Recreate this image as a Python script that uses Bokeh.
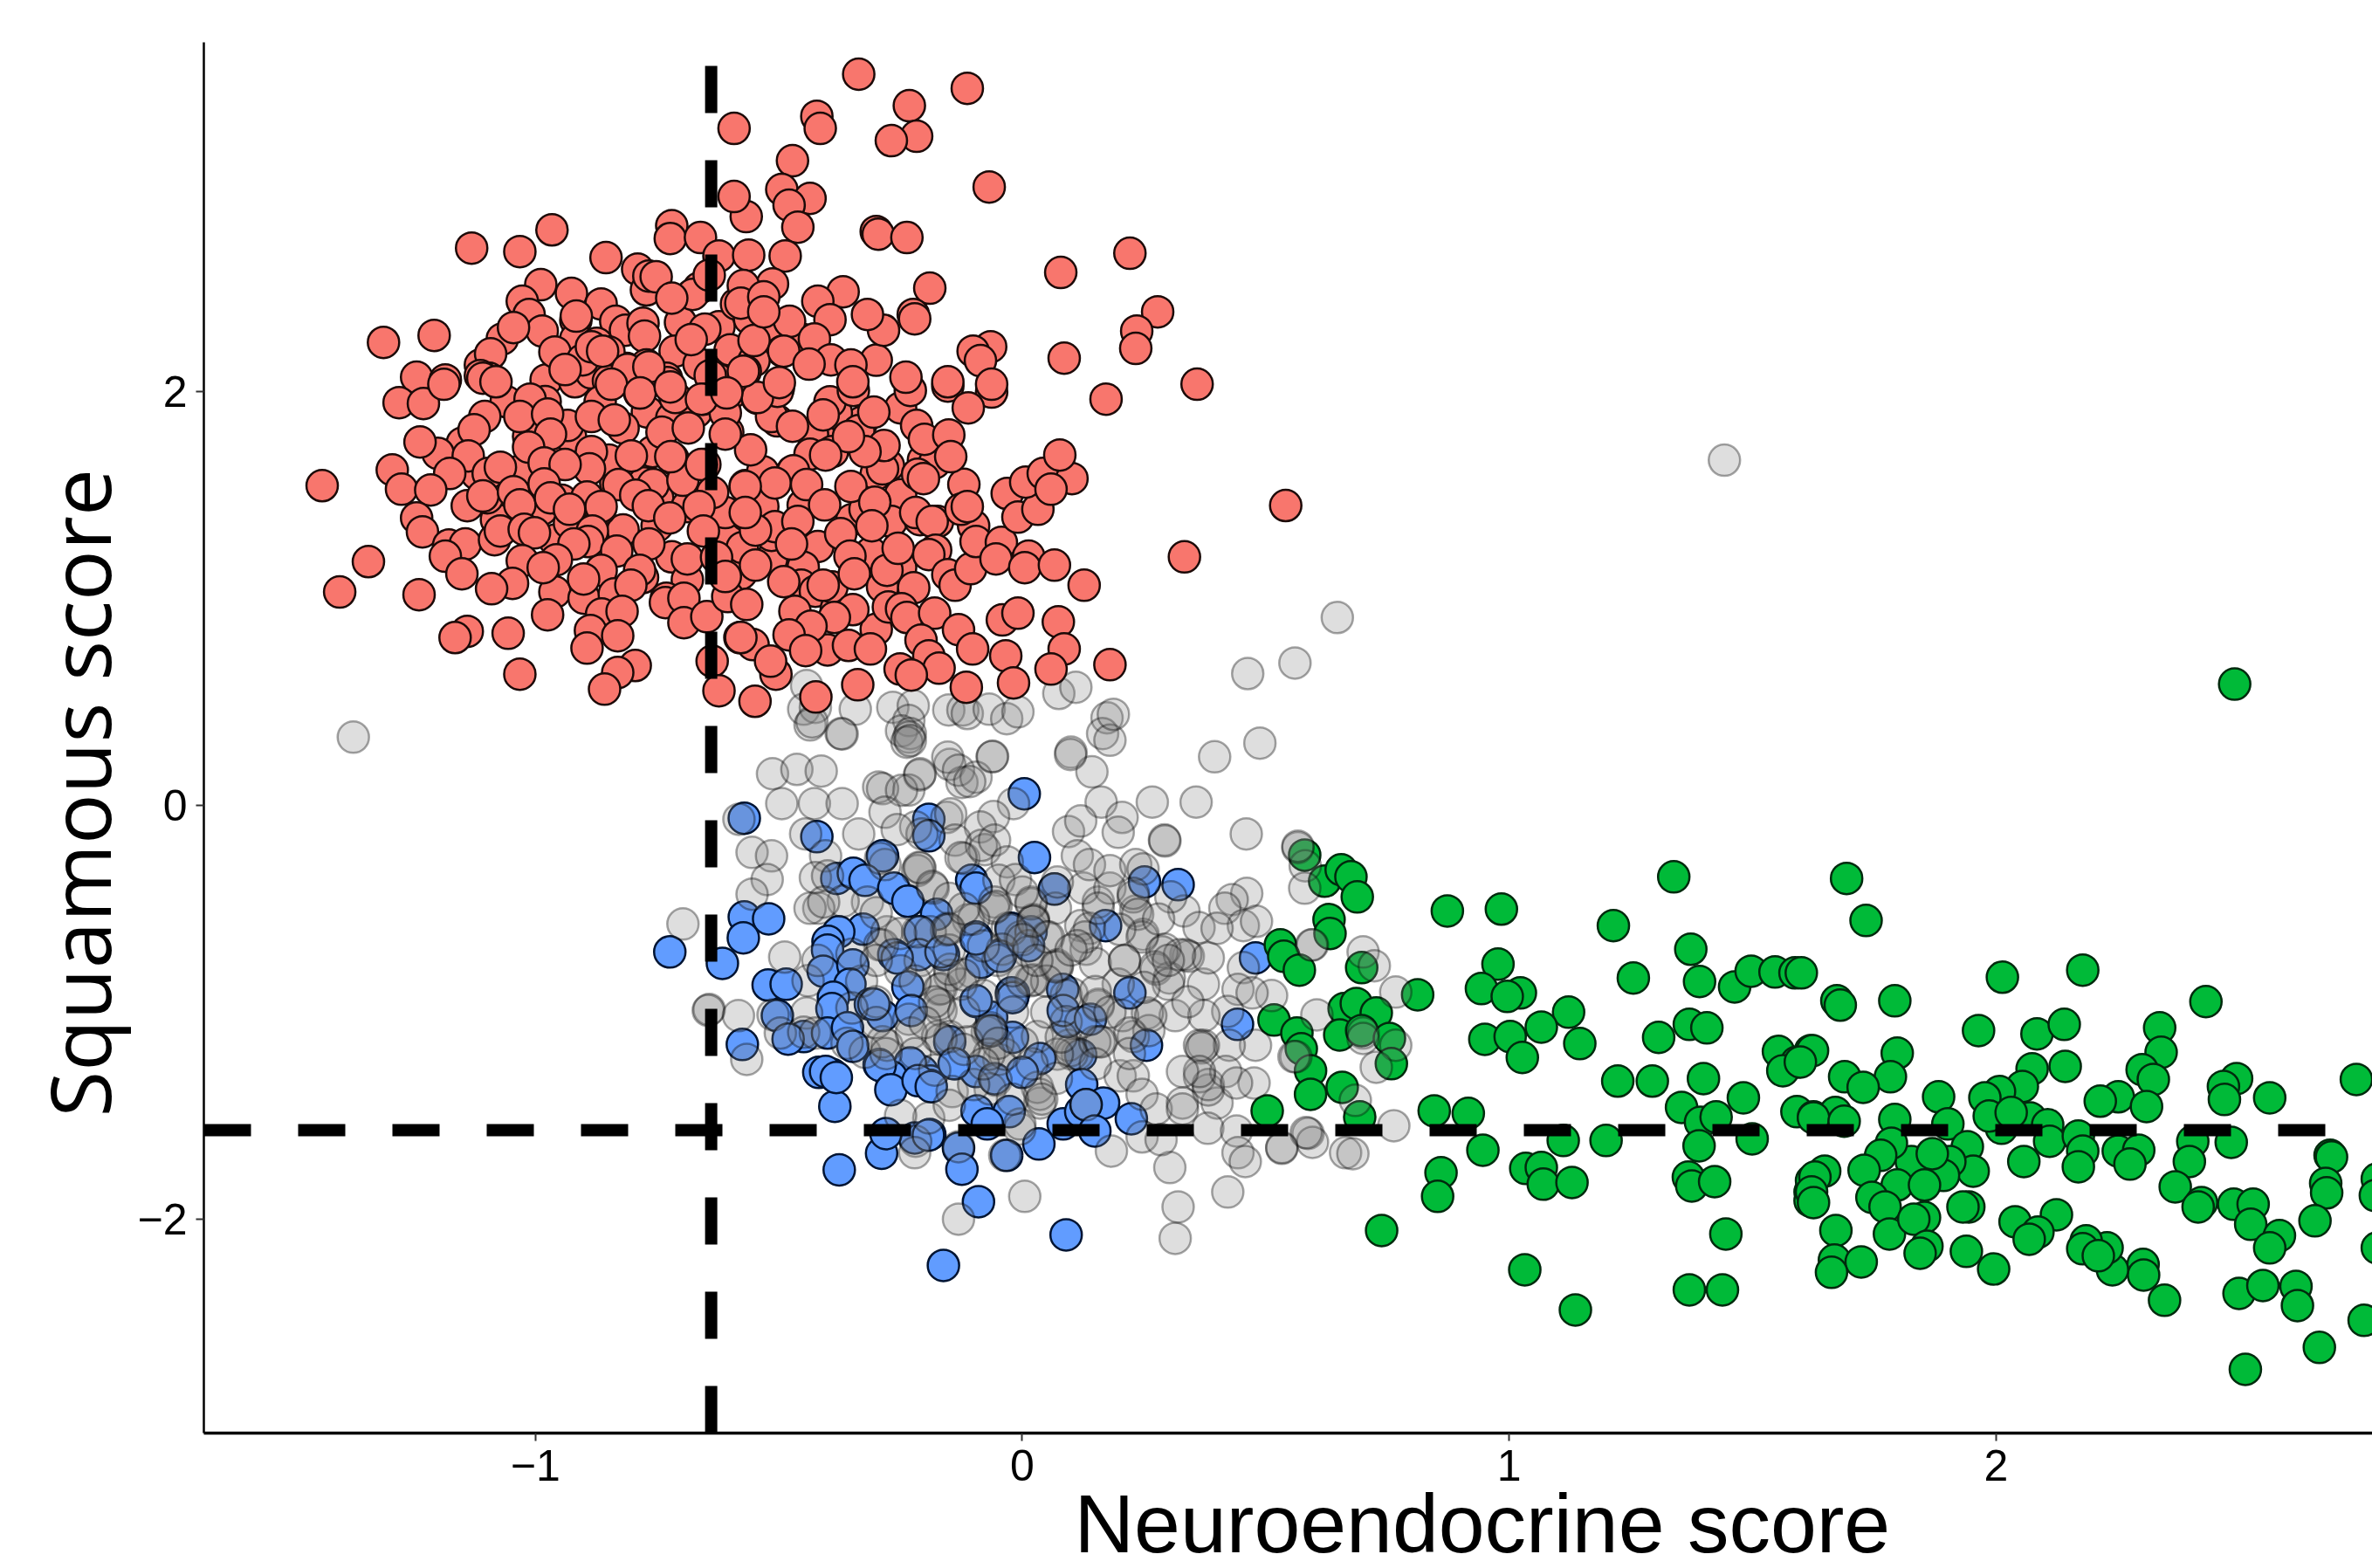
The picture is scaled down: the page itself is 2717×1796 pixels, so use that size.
from bokeh.plotting import figure
from bokeh.embed import file_html
from bokeh.resources import INLINE
from bokeh.models import FixedTicker, Title

x_ticks = [-1, 0, 1, 2]
x_tick_labels = ["\u22121", "0", "1", "2"]
y_ticks = [-2, 0, 2]
y_tick_labels = ["\u22122", "0", "2"]
x_threshold = -0.639
y_threshold = -1.57
x_title = "Neuroendocrine score"
y_title = "Squamous score"

red_points = [
(-1.131,2.692),(-1.032,2.675),(-0.966,2.78),(-1.312,2.236),(-1.208,2.27),(-0.855,2.646),(-0.79,2.59),(-0.772,2.49),(-0.767,2.557),(-0.752,2.553),
(-0.72,2.80),(-0.723,2.738),(-0.661,2.743),(-0.623,2.654),(-0.989,2.515),(-0.926,2.473),(-1.027,2.435),(-1.013,2.371),(-0.865,2.422),(-0.917,2.342),
(-0.986,2.291),(-0.835,2.338),(-0.815,2.295),(-0.779,2.329),(-0.702,2.333),(-0.623,2.312),(-0.652,2.30),(-0.917,2.253),(-1.068,2.253),(-1.045,2.308),
(-1.113,2.127),(-1.092,2.181),(-0.713,2.194),(-0.731,2.063),(-0.776,2.266),(-0.664,2.498),(-0.677,2.468),(-0.643,2.561),(-0.587,2.422),(-1.244,2.068),
(-1.185,2.055),(-0.978,2.055),(-0.919,2.046),(-0.885,2.089),(-0.813,2.11),(-0.96,2.19),(-0.874,2.232),(-0.849,2.19),(-0.903,2.152),(-0.79,2.068),
(-0.772,2.127),(-0.664,2.131),(-0.598,2.173),(-0.623,2.055),(-0.641,2.076),(-1.095,2.063),(-1.113,2.076),
(-0.77,1.9),(-0.72,1.87),(-0.67,1.9),(-0.98,1.95),(-1.06,1.95),(-1.15,1.75),(-1.2,1.7),(-1.12,1.6),(-1.0,1.45),(-1.08,1.38),(-0.96,1.28),(-0.85,1.25),
(-0.82,1.33),(-0.75,1.35),(-0.78,1.1),(-0.72,1.2),(-0.96,1.03),(-0.9,1.0),(-0.6,1.3),(-0.45,1.45),(-0.42,1.25),(-0.35,1.38),(-0.3,1.6),(-0.25,1.5),
(-0.33,1.85),(-0.25,1.92),(-0.12,1.55),(-0.1,1.35),(-0.25,1.15),(-0.3,0.85),(-0.4,0.75),(-0.45,1.15),(-0.6,2.2),(-0.68,2.25),(-0.45,2.25),(-0.72,2.45),
(-0.5,2.3),(-0.56,2.35),(-0.3,2.15),(-0.85,2.05),
(-1.108,2.063),(-1.081,2.046),(-0.916,2.363),(-0.885,2.215),(-0.862,2.194),(-0.492,2.194),(-0.551,2.148),(-0.569,2.097),(-0.598,1.992),(-0.501,2.017),
(-0.544,1.966),(-0.729,2.042),(-0.786,1.992),(-0.803,2.063),(-0.811,2.105),(-0.713,1.97),(-0.655,1.962),(-0.605,1.802),(-0.503,1.857),(-1.014,1.781),
(-0.82,1.823),(-0.885,1.633),(-0.718,1.675),(-0.652,1.646),(-0.569,1.544),(-0.506,1.57),(-0.472,1.612),(-0.835,1.557),(-1.047,1.527),(-1.099,1.485),
(-0.567,1.401),(-0.952,1.654),(-0.987,1.654),(-0.928,1.781),(-0.867,1.949),(-0.844,2.034),(-0.767,2.118),(-0.939,2.105),(-1.011,1.962),(-0.759,1.709),
(-0.777,1.557),(-0.749,1.485),(-0.688,1.443),(-0.61,1.414),(-0.533,1.443),(-0.987,1.43),(-0.946,1.473),(-0.867,1.43),(-0.849,1.667),(-1.036,1.612),(-0.934,1.835),
(-0.515,1.878),(-0.533,1.612),(-0.413,1.768),(-0.382,1.895),(-0.336,1.81),(-0.431,1.793),(-0.436,1.696),(-0.39,1.709),(-0.515,1.19),(-0.578,1.118),
(-0.454,1.063),(-0.575,1.245),(-0.515,1.304),(-0.508,1.346),(-0.311,1.219),(-0.323,1.43),(-0.269,1.371),(-0.174,1.371),(-0.275,1.641),(-0.203,1.667),
(-0.18,1.654),(-0.425,1.034),(-0.382,0.949),
(-1.28,1.945),(-1.23,1.941),(-1.188,2.034),(-1.237,1.755),(-1.104,1.878),(-1.126,1.814),(-1.032,1.878),(-0.975,1.89),(-0.969,1.793),(-1.014,1.73),
(-0.885,1.878),(-0.838,1.861),(-0.785,1.992),(-0.723,2.021),(-0.74,1.802),(-0.686,1.823),(-0.803,1.688),(-0.885,1.709),(-0.889,1.625),(-0.982,1.654),
(-0.939,1.646),(-1.138,1.688),(-1.097,1.603),(-1.072,1.633),(-1.176,1.603),(-1.294,1.62),(-1.275,1.527),(-1.215,1.523),(-1.438,1.544),(-1.14,1.447),
(-1.108,1.494),(-1.045,1.515),(-1.032,1.451),(-0.982,1.553),(-0.969,1.485),(-0.894,1.489),(-0.829,1.549),(-0.758,1.549),(-0.794,1.498),(-0.768,1.447),
(-0.865,1.443),(-0.697,1.57),(-0.659,1.646),(-0.722,1.684),(-0.724,1.388),(-0.636,1.511),(-0.664,1.443),(-0.655,1.325),(-1.244,1.388),(-1.232,1.321),
(-1.178,1.257),(-1.144,1.262),(-1.185,1.203),(-1.151,1.118),(-1.084,1.283),(-1.072,1.325),(-1.023,1.333),(-1.002,1.316),(-0.93,1.363),(-0.93,1.43),
(-0.883,1.325),(-0.892,1.274),(-0.921,1.262),(-0.957,1.186),(-1.027,1.181),(-0.984,1.148),(-0.833,1.228),(-0.865,1.135),(-0.901,1.093),(-0.767,1.262),
(-0.786,1.135),(-0.838,1.021),(-0.804,1.063),(-1.047,1.072),(-1.09,1.046),(-0.688,1.089),(-0.688,1.19),(-0.628,1.198),(-0.731,1.0),(-0.733,0.979),
(-0.695,1.0),(-0.695,0.882),(-0.648,0.911),(-0.605,1.008),(-0.61,1.105),(-1.343,1.177),(-1.402,1.03),(-1.239,1.017),(-0.975,0.92),(-1.056,0.831),
(-1.14,0.84),(-1.165,0.81),(-0.864,0.924),(-0.822,0.937),(-0.887,0.844),(-0.831,0.819),(-0.894,0.759),(-1.032,0.633),(-0.795,0.675),(-0.831,0.641),
(-0.858,0.561),(-0.637,0.696),(-0.623,0.553),(-0.58,0.81),
(0.172,1.962),(-0.503,2.0),(-0.544,1.97),(-0.395,1.949),(-0.347,2.004),(-0.305,1.899),(-0.23,2.004),(-0.153,2.025),(-0.063,1.996),(-0.111,1.92),
(-0.217,1.835),(-0.201,1.768),(-0.151,1.789),(-0.147,1.684),(-0.215,1.599),(-0.203,1.578),(-0.287,1.625),(-0.284,1.738),(-0.323,1.709),(-0.357,1.781),
(-0.404,1.692),(-0.409,1.886),(-0.472,1.831),(-0.558,1.717),(-0.47,1.616),(-0.443,1.549),(-0.508,1.557),(-0.569,1.54),(-0.352,1.54),(-0.303,1.464),
(-0.406,1.451),(-0.309,1.35),(-0.373,1.312),(-0.354,1.203),(-0.461,1.371),(-0.474,1.262),(-0.548,1.329),(-0.569,1.414),(-0.548,1.16),(-0.49,1.08),
(-0.566,0.97),(-0.391,1.055),(-0.409,1.063),(-0.345,1.118),(-0.287,1.055),(-0.278,1.135),(-0.255,1.241),(-0.21,1.38),(-0.219,1.414),(-0.185,1.371),
(-0.126,1.43),(-0.113,1.443),(-0.178,1.232),(-0.192,1.211),(-0.223,1.051),(-0.153,1.114),(-0.138,1.063),(-0.106,1.143),(-0.095,1.274),(-0.043,1.27),
(-0.054,1.19),(0.013,1.203),(0.005,1.148),(0.066,1.16),(0.127,1.063),(-0.031,1.506),(-0.009,1.392),(0.032,1.43),(0.007,1.561),(0.043,1.603),
(0.102,1.578),(0.077,1.692),(0.059,1.527),(-0.348,0.945),(-0.386,0.907),(-0.467,0.937),(-0.434,0.865),(-0.479,0.823),(-0.445,0.747),(-0.553,0.776),
(-0.578,0.81),(-0.506,0.633),(-0.517,0.696),(-0.549,0.502),(-0.424,0.523),(-0.338,0.582),(-0.357,0.772),(-0.312,0.755),(-0.275,0.958),(-0.248,0.949),
(-0.237,0.907),(-0.18,0.928),(-0.131,0.848),(-0.102,0.755),(-0.208,0.797),(-0.192,0.722),(-0.171,0.662),(-0.251,0.658),(-0.228,0.629),(-0.115,0.57),
(-0.034,0.722),(-0.018,0.591),(-0.041,0.895),(-0.009,0.928),(0.074,0.886),(0.086,0.755),(0.059,0.658),(0.18,0.679),
(-0.336,3.532),(-0.113,3.464),(-0.232,3.38),(-0.217,3.232),(-0.269,3.211),(-0.422,3.329),(-0.415,3.27),(-0.592,3.27),(-0.068,2.987),(-0.472,3.114),
(-0.494,2.975),(-0.436,2.932),(-0.479,2.899),(-0.461,2.793),(-0.3,2.772),(-0.296,2.759),(-0.237,2.743),(-0.567,2.844),(-0.562,2.658),(-0.487,2.654),
(-0.592,2.941),(-0.513,2.519),(-0.573,2.511),(0.079,2.574),(0.221,2.667),(-0.19,2.498),(-0.224,2.371),(-0.221,2.35),(-0.285,2.295),(-0.318,2.371),
(-0.368,2.481),(-0.42,2.435),(-0.395,2.346),(-0.478,2.338),(-0.578,2.426),(-0.551,2.245),(-0.49,2.194),(-0.427,2.253),(-0.393,2.152),(-0.438,2.131),
(-0.352,2.127),(-0.348,2.046),(-0.499,2.042),(-0.573,2.097),(-0.531,2.456),(-0.531,2.384),(0.278,2.384),(0.235,2.291),(0.233,2.207),(0.086,2.16),
(-0.065,2.215),(-0.101,2.194),(-0.086,2.148),(-0.239,2.068),(-0.153,2.046),(0.359,2.034),(-0.063,2.034),
(0.541,1.448),(0.333,1.2),(-0.61,1.895),(-0.61,1.793),(-0.659,1.962),(-0.607,1.992),
]

gray_points = [
(-0.443,0.578),(-0.449,0.464),(-0.425,0.473),(-0.436,0.388),(-0.372,0.346),(-0.343,0.464),(-0.266,0.473),(-0.224,0.481),(-0.233,0.409),(-0.248,0.359),
(-0.23,0.346),(-0.151,0.46),(-0.122,0.46),(-0.113,0.443),(-0.068,0.464),(-0.032,0.418),(-0.009,0.451),(0.075,0.54),(0.11,0.57),(0.174,0.422),(0.165,0.346),
(1.442,1.667),(0.647,0.907),(0.463,0.636),(0.56,0.687),(0.395,0.234),(0.488,0.3),(0.357,0.015),(-1.374,0.329),(-0.643,-0.987),(0.46,-0.139),
(0.566,-0.205),(0.581,-0.293),(0.292,-0.168),(0.18,0.314),(0.187,0.439),(0.1,0.256),(0.143,0.161),(0.162,0.015),(0.267,0.015),(0.205,-0.059),
(-0.432,0.402),(-0.37,0.344),(-0.233,0.329),(-0.149,0.197),(-0.062,0.234),(-0.124,0.11),(-0.295,0.088),(-0.211,0.146),(-0.155,-0.059),(-0.233,0.073),
(-0.513,0.152),(-0.463,0.173),(-0.413,0.165),(-0.494,0.008),(-0.427,0.008),(-0.37,0.008),(-0.287,0.08),(-0.248,0.072),(-0.21,0.152),(-0.153,0.232),
(-0.131,0.169),(-0.095,0.135),(-0.108,0.114),(-0.061,0.236),(-0.237,0.304),(-0.23,0.312),(0.099,0.245),(-0.582,-0.068),(-0.282,-0.034),(-0.147,-0.042),
(-0.018,0.008),(-0.059,-0.055),(-0.086,-0.105),(-0.336,-0.139),(-0.445,-0.139),(-0.404,-0.245),(-0.555,-0.228),(-0.515,-0.245),(-0.524,-0.359),(-0.555,-0.43),
(-0.697,-0.574),(-0.219,-0.105),(-0.206,-0.139),(-0.257,-0.118),(-0.138,-0.169),(-0.12,-0.257),(-0.077,-0.215),(-0.084,-0.194),(-0.057,-0.169),(-0.282,-0.287),
(-0.21,-0.304),(-0.215,-0.316),(-0.183,-0.401),(-0.425,-0.35),(-0.4,-0.342),(-0.318,-0.468),(-0.368,-0.464),(-0.418,-0.498),(-0.436,-0.498),(-0.408,-0.468),
(0.095,-0.127),(0.113,-0.245),(0.12,-0.076),(-0.031,-0.274),(-0.048,-0.363),(-0.014,-0.359),(-0.057,-0.468),(-0.111,-0.553),(-0.153,-0.595),(0.018,-0.468),
(0.066,-0.405),(0.068,-0.498),(0.023,-0.553),(0.05,-0.637),(0.12,-0.582),(-0.031,-0.595),(-0.293,-0.675),(-0.278,-0.612),(-0.21,-0.751),(-0.149,-0.823),
(-0.104,-0.806),(-0.171,-0.89),(0.022,-0.844),(0.068,-0.781),(-0.023,-0.92),(-0.167,-0.992),(-0.233,-1.034),(-0.488,-0.734),(-0.44,-0.848),(-0.645,-0.992),
(-0.583,-1.017),(-0.512,-1.013),(-0.566,-1.228),(-0.497,-1.101),(-0.443,-1.004),(-0.449,-1.097),(-0.425,-1.101),(-0.278,-1.16),(-0.323,-1.194),(-0.228,-1.101),
(-0.149,-1.118),(-0.174,-1.118),(-0.048,-1.228),(-0.072,-1.097),(0.031,-1.118),(0.113,-1.203),(0.095,-1.16),
(0.461,-0.426),(0.431,-0.456),(0.416,-0.498),(0.454,-0.582),(0.481,-0.561),(0.58,-0.401),(0.596,-0.675),(0.454,-0.785),(0.443,-0.89),(0.512,-0.92),
(0.472,-0.907),(0.605,-1.013),(0.422,-0.996),(0.479,-1.16),(0.562,-1.215),(0.425,-1.16),(0.372,-1.16),(0.364,-1.16),(0.368,-1.173),(0.314,-1.017),
(0.373,-1.017),(0.372,-0.865),(0.341,-0.73),(0.336,-0.722),(0.382,-0.738),(0.332,-0.511),(0.363,-0.591),(0.4,-0.595),(0.233,-0.511),(0.248,-0.624),
(0.293,-0.696),(0.275,-0.793),(0.302,-0.835),(0.156,-0.468),(0.126,-0.401),(0.18,-0.401),(0.228,-0.443),(0.138,-0.595),(0.072,-0.371),(0.131,-0.696),
(0.15,-0.764),(0.21,-0.751),(0.197,-0.865),(0.156,-0.97),(0.228,-1.118),(0.257,-1.004),(0.26,-1.089),(0.158,-1.143),(0.102,-0.911),(0.072,-0.781),
(0.018,-0.848),(-0.156,-0.603),(-0.059,-0.498),(0.023,-0.561),(-0.004,-0.637),(-0.167,-0.886),(-0.066,-1.089),(0.099,-1.186),(0.201,-1.308),(0.228,-1.308),
(0.246,-1.397),(0.275,-1.468),(0.329,-1.439),(0.329,-1.468),(0.4,-1.439),(0.382,-1.376),(0.364,-1.312),(0.382,-1.35),(0.418,-1.287),(0.364,-1.287),
(0.329,-1.287),(0.476,-1.342),(0.44,-1.342),(0.381,-1.561),(0.44,-1.574),(0.443,-1.679),(0.458,-1.722),(0.422,-1.869),(0.303,-1.751),(0.32,-1.941),
(0.314,-2.093),(0.183,-1.671),(0.246,-1.603),(0.285,-1.616),(0.533,-1.658),(0.587,-1.586),(0.596,-1.629),(0.664,-1.679),(0.005,-1.89),(-0.131,-2.0),
(-0.036,-1.692),(-0.219,-1.624),(-0.192,-1.511),(-0.144,-1.384),(-0.005,-1.565),(0.131,-1.447),(0.036,-1.439),(-0.066,-1.371),(-0.054,-1.329),(0.031,-1.363),
(0.036,-1.397),(-0.005,-1.54),(-0.036,-1.203),(0.102,-1.203),(-0.215,-0.612),(-0.126,-0.865),(0.149,-1.143),(-0.113,-1.143),(-0.131,-1.65),(-0.221,-1.679),
(0.566,-0.198),(0.594,-0.675),(0.7,-0.709),(0.723,-0.776),(0.767,-0.903),(0.7,-1.101),(0.7,-1.127),(0.767,-1.16),
(0.727,-1.266),(0.558,-1.215),(0.684,-1.426),(0.763,-1.549),(0.583,-1.582),(0.679,-1.684),(0.533,-1.654),
(-0.126,-0.253),(-0.212,-0.3),(-0.185,-0.392),(0.018,-0.477),(-0.054,-0.489),(0.022,-0.561),(0.054,-0.637),(-0.023,-0.603),(-0.189,-0.612),(-0.287,-0.675),
(-0.149,-0.793),(-0.041,-0.696),(0.013,-0.709),(0.072,-0.772),(0.129,-0.637),(0.113,-0.679),(0.156,-0.498),(0.138,-0.287),(0.18,-0.316),(0.233,-0.287),
(0.248,-0.308),(0.293,-0.173),(0.197,-0.131),(0.305,-0.443),(0.228,-0.426),(0.237,-0.527),(0.246,-0.637),(0.287,-0.709),(0.323,-0.722),(0.21,-0.751),
(0.273,-0.781),(0.3,-0.865),(0.156,-0.962),(0.09,-0.92),(0.206,-1.017),(0.221,-1.101),(0.162,-1.143),(0.264,-1.017),(-0.066,-1.076),(-0.171,-0.962),
(-0.167,-1.131),(-0.068,-1.203),(0.072,-1.203),(0.09,-1.046),(-0.287,-1.143),(-0.291,-0.257),
(-0.15,-0.45),(-0.1,-0.55),(-0.05,-0.75),(0.0,-0.65),(0.05,-0.85),(0.1,-0.7),(0.15,-0.9),(0.2,-0.6),(-0.42,-0.75),(-0.33,-0.85),(-0.3,-0.95),(-0.25,-0.8),
(-0.18,-0.95),(-0.12,-1.0),(-0.22,-1.2),(-0.1,-1.35),(-0.02,-1.0),(0.0,-0.85),(0.05,-1.0),(0.12,-1.05),(0.18,-1.0),(0.25,-0.88),(0.3,-0.75),(0.34,-0.95),
(0.28,-0.55),(0.02,-1.25),(0.07,-1.32),(0.15,-1.25),(0.22,-1.2),(-0.3,-1.05),(-0.36,-1.15),(-0.02,-1.42),(-0.15,-1.45),(-0.25,-1.5),
(-0.35,-0.72),(-0.3,-0.75),(-0.22,-0.85),(-0.15,-0.7),(-0.12,-0.82),(-0.08,-0.92),(-0.02,-0.8),(-0.05,-1.15),(-0.12,-1.18),(-0.2,-1.05),(-0.28,-1.2),(-0.35,-0.98),
(-0.25,-0.62),(-0.15,-0.6),(-0.08,-0.68),(0.03,-0.75),(0.08,-1.12),(0.0,-1.15),(-0.18,-1.28),(-0.08,-1.25),(0.04,-1.42),(-0.3,-0.52),(-0.12,-0.5),(0.0,-0.42),
]

blue_points = [
(-0.571,-0.063),(0.004,0.055),(-0.422,-0.152),(-0.192,-0.068),(-0.192,-0.148),(-0.287,-0.245),(0.025,-0.253),(-0.104,-0.363),(-0.095,-0.401),(-0.381,-0.354),
(-0.347,-0.329),(-0.323,-0.363),(-0.264,-0.401),(-0.235,-0.464),(0.066,-0.405),(-0.176,-0.527),(-0.571,-0.54),(-0.521,-0.549),(-0.573,-0.641),(-0.724,-0.709),
(-0.616,-0.764),(-0.327,-0.599),(-0.377,-0.612),(-0.399,-0.658),(-0.4,-0.7),(-0.409,-0.802),(-0.348,-0.772),(-0.354,-0.865),(-0.522,-0.869),(-0.485,-0.865),
(-0.388,-0.928),(-0.391,-0.983),(-0.312,-0.962),(-0.287,-1.017),(-0.235,-0.878),(-0.264,-0.722),(-0.21,-0.612),(-0.212,-0.722),(-0.095,-0.637),(-0.084,-0.759),
(-0.045,-0.722),(-0.162,-0.722),(-0.023,-0.595),(0.018,-0.612),(-0.095,-0.949),(-0.018,-0.911),(0.083,-0.89),(-0.063,-1.025),(-0.02,-1.122),(0.093,-1.046),
(0.036,-1.224),(-0.503,-1.017),(-0.449,-1.118),(-0.481,-1.13),(-0.4,-1.101),(-0.359,-1.076),(-0.348,-1.165),(-0.575,-1.156),(-0.294,-1.253),(-0.418,-1.291),
(-0.391,-1.3),(-0.138,-1.249),(-0.206,-1.287),(-0.23,-1.245),(-0.189,-1.333),(-0.269,-1.312),(-0.095,-1.287),(-0.057,-1.321),(0.0,-1.291),(-0.149,-1.143),
(0.084,-0.992),(0.171,-0.582),(0.251,-0.371),(0.32,-0.384),(0.479,-0.738),(0.442,-1.059),(0.221,-0.907),(-0.095,-0.646),(-0.045,-0.73),(-0.095,-0.945),
(-0.022,-0.907),(0.14,-1.034),(0.12,-1.207),(0.255,-1.16),(-0.14,-1.249),(-0.189,-1.354),(0.122,-1.35),(-0.093,-1.477),(-0.027,-1.481),(-0.072,-1.54),
(0.084,-1.54),(0.12,-1.481),(0.167,-1.439),(0.131,-1.447),(0.224,-1.515),(0.149,-1.574),(-0.19,-1.591),(-0.221,-1.608),(-0.131,-1.658),(-0.124,-1.759),
(0.034,-1.637),(-0.032,-1.692),(-0.09,-1.916),(0.09,-2.076),(-0.162,-2.224),(-0.376,-1.762),(-0.289,-1.682),(-0.28,-1.587),(-0.385,-1.455),(-0.193,-1.594),
(-0.404,-1.287),(-0.382,-1.316),(-0.292,-1.258),(-0.27,-1.375),(-0.214,-1.331),(-0.187,-1.36),
(-0.257,-0.738),(-0.167,-0.709),(0.013,-0.679),(-0.305,-0.962),(-0.228,-0.992),(-0.063,-1.09),(-0.02,-0.93),
]

green_points = [
(0.58,-0.241),(0.621,-0.367),(0.655,-0.312),(0.675,-0.346),(0.688,-0.443),(0.63,-0.553),(0.632,-0.62),(0.53,-0.675),(0.537,-0.73),(0.569,-0.797),
(0.697,-0.785),(0.812,-0.916),(0.873,-0.511),(0.984,-0.502),(1.338,-0.346),(1.214,-0.582),(1.373,-0.696),(1.255,-0.835),(1.391,-0.852),(1.463,-0.878),
(1.497,-0.802),(1.546,-0.806),(1.587,-0.81),(0.977,-0.768),(0.943,-0.886),(1.023,-0.907),(0.996,-0.924),(1.122,-1.0),(1.066,-1.072),(1.145,-1.152),
(0.95,-1.131),(1.002,-1.118),(1.027,-1.219),(1.307,-1.122),(1.37,-1.059),(1.406,-1.076),(1.223,-1.333),(1.294,-1.333),(1.399,-1.321),(1.481,-1.414),
(1.354,-1.46),(1.393,-1.532),(1.425,-1.506),(1.39,-1.646),(1.499,-1.612),(1.553,-1.19),(1.591,-1.241),(1.619,-1.186),(1.562,-1.283),(1.591,-1.481),
(1.625,-1.506),(1.368,-1.797),(1.375,-1.84),(1.422,-1.819),(1.445,-2.072),(1.37,-2.342),(1.438,-2.342),(1.032,-2.245),(1.136,-2.439),(0.738,-2.055),
(0.946,-1.667),(0.86,-1.776),(0.853,-1.89),(0.846,-1.477),(0.916,-1.489),(1.111,-1.62),(1.199,-1.62),(1.034,-1.755),(1.066,-1.751),(1.07,-1.831),
(1.129,-1.823),(1.618,-1.869),(1.621,-1.814),(1.618,-1.911),(0.661,-0.983),(0.686,-0.958),(0.727,-1.004),(0.652,-1.11),(0.697,-1.089),(0.754,-1.127),
(0.758,-1.249),(0.517,-1.038),(0.564,-1.101),(0.573,-1.177),(0.592,-1.283),(0.592,-1.397),(0.657,-1.363),(0.693,-1.506),(0.503,-1.477),
(1.693,-0.354),(1.733,-0.557),(2.013,-0.831),(2.178,-0.797),(2.431,-0.949),(1.792,-0.945),(1.673,-0.945),(1.68,-0.966),(1.6,-0.81),(1.964,-1.089),
(2.084,-1.105),(2.14,-1.059),(2.142,-1.262),(2.336,-1.076),(2.339,-1.194),(2.3,-1.278),(2.323,-1.325),(2.494,-1.321),(2.467,-1.359),(2.469,-1.422),
(2.562,-1.414),(2.74,-1.325),(1.623,-1.186),(1.598,-1.241),(1.797,-1.198),(1.783,-1.312),(1.689,-1.312),(1.727,-1.363),(1.882,-1.409),(2.074,-1.274),
(2.054,-1.359),(2.007,-1.384),(1.977,-1.414),(2.251,-1.409),(2.214,-1.43),(2.309,-1.456),(1.67,-1.485),(1.625,-1.511),(1.688,-1.527),(1.792,-1.519),
(1.901,-1.54),(2.014,-1.54),(2.07,-1.511),(2.106,-1.544),(2.11,-1.624),(2.169,-1.599),(2.178,-1.671),(2.169,-1.747),(2.251,-1.671),(2.293,-1.667),
(2.275,-1.734),(2.404,-1.624),(2.483,-1.629),(2.397,-1.722),(2.368,-1.844),(2.422,-1.92),(2.415,-1.941),(2.488,-1.928),(2.528,-1.928),(2.523,-2.025),
(2.582,-2.08),(2.562,-2.139),(2.686,-1.692),(2.689,-1.70),(2.677,-1.827),(2.679,-1.873),(2.655,-2.008),(2.783,-1.806),(2.779,-1.886),(2.783,-2.139),
(2.756,-2.489),(2.664,-2.62),(2.512,-2.726),(2.499,-2.359),(2.548,-2.321),(2.616,-2.325),(2.619,-2.418),(2.346,-2.392),(2.302,-2.219),(2.303,-2.27),
(2.239,-2.245),(2.228,-2.139),(2.185,-2.105),(2.178,-2.143),(2.21,-2.177),(2.124,-1.979),(2.039,-2.013),(2.086,-2.063),(2.068,-2.097),(1.995,-2.241),
(1.939,-2.156),(1.944,-1.941),(1.932,-1.941),(2.057,-1.722),(2.011,-1.561),(1.986,-1.502),(2.031,-1.485),(1.941,-1.65),(1.953,-1.768),(1.905,-1.722),
(1.892,-1.789),(1.826,-1.722),(1.785,-1.633),(1.869,-1.684),(1.797,-1.835),(1.853,-1.835),(1.763,-1.692),(1.729,-1.764),(1.745,-1.895),(1.772,-1.941),
(1.781,-2.072),(1.853,-1.992),(1.831,-2.0),(1.858,-2.131),(1.844,-2.165),(1.671,-2.055),(1.668,-2.198),(1.723,-2.207),(1.662,-2.257),(1.648,-1.768),
(1.628,-1.797),(1.621,-1.869),(1.625,-1.92),(2.49,0.585),
]

XMIN, XMAX = -1.681, 2.773
YMIN, YMAX = -3.034, 3.686

p = figure(width=2717, height=1796, x_range=(XMIN, XMAX), y_range=(YMIN, YMAX),
           output_backend="svg", toolbar_location=None,
           min_border_left=233, min_border_right=0, min_border_top=48, min_border_bottom=155,
           background_fill_color="white", border_fill_color="white")
p.outline_line_color = None
p.grid.visible = False

def xs(pts): return [a for a, b in pts]
def ys(pts): return [b for a, b in pts]

SIZE = 36
p.scatter(xs(blue_points), ys(blue_points), size=SIZE, fill_color="#619CFF", line_color="#001433", line_width=2.5)
p.scatter(xs(green_points), ys(green_points), size=SIZE, fill_color="#00BA38", line_color="#002a0d", line_width=2.5)
p.scatter(xs(gray_points), ys(gray_points), size=SIZE, fill_color="#808080", fill_alpha=0.26,
          line_color="black", line_alpha=0.35, line_width=2.5)
p.scatter(xs(red_points), ys(red_points), size=SIZE, fill_color="#F8766D", line_color="#1c0a08", line_width=2.5)

p.line([XMIN, XMAX], [y_threshold, y_threshold], line_color="black", line_width=14, line_dash="54 54")
p.line([x_threshold, x_threshold], [YMIN, YMAX], line_color="black", line_width=14, line_dash="54 54")

for ax, ticks, labels, lw in ((p.xaxis[0], x_ticks, x_tick_labels, 3.5), (p.yaxis[0], y_ticks, y_tick_labels, 2.5)):
    ax.ticker = FixedTicker(ticks=ticks)
    ax.major_label_overrides = dict(zip(ticks, labels))
    ax.minor_tick_line_color = None
    ax.major_tick_in = 0
    ax.major_tick_out = 9
    ax.major_tick_line_color = "#333333"
    ax.major_tick_line_width = 2
    ax.axis_line_color = "black"
    ax.axis_line_width = lw
    ax.major_label_text_font = "Liberation Sans"
    ax.major_label_text_font_size = "50px"
    ax.major_label_text_color = "black"
    ax.major_label_standoff = 10

p.add_layout(Title(text=x_title, align="left", offset=997, standoff=-18, text_font="Liberation Sans",
                   text_font_size="95px", text_font_style="normal", text_color="black"), "below")
p.add_layout(Title(text=y_title, align="left", offset=362, standoff=0, text_font="Open Sans",
                   text_font_size="96px", text_font_style="normal", text_color="black"), "left")

open("out.html", "w").write(file_html(p, INLINE))
